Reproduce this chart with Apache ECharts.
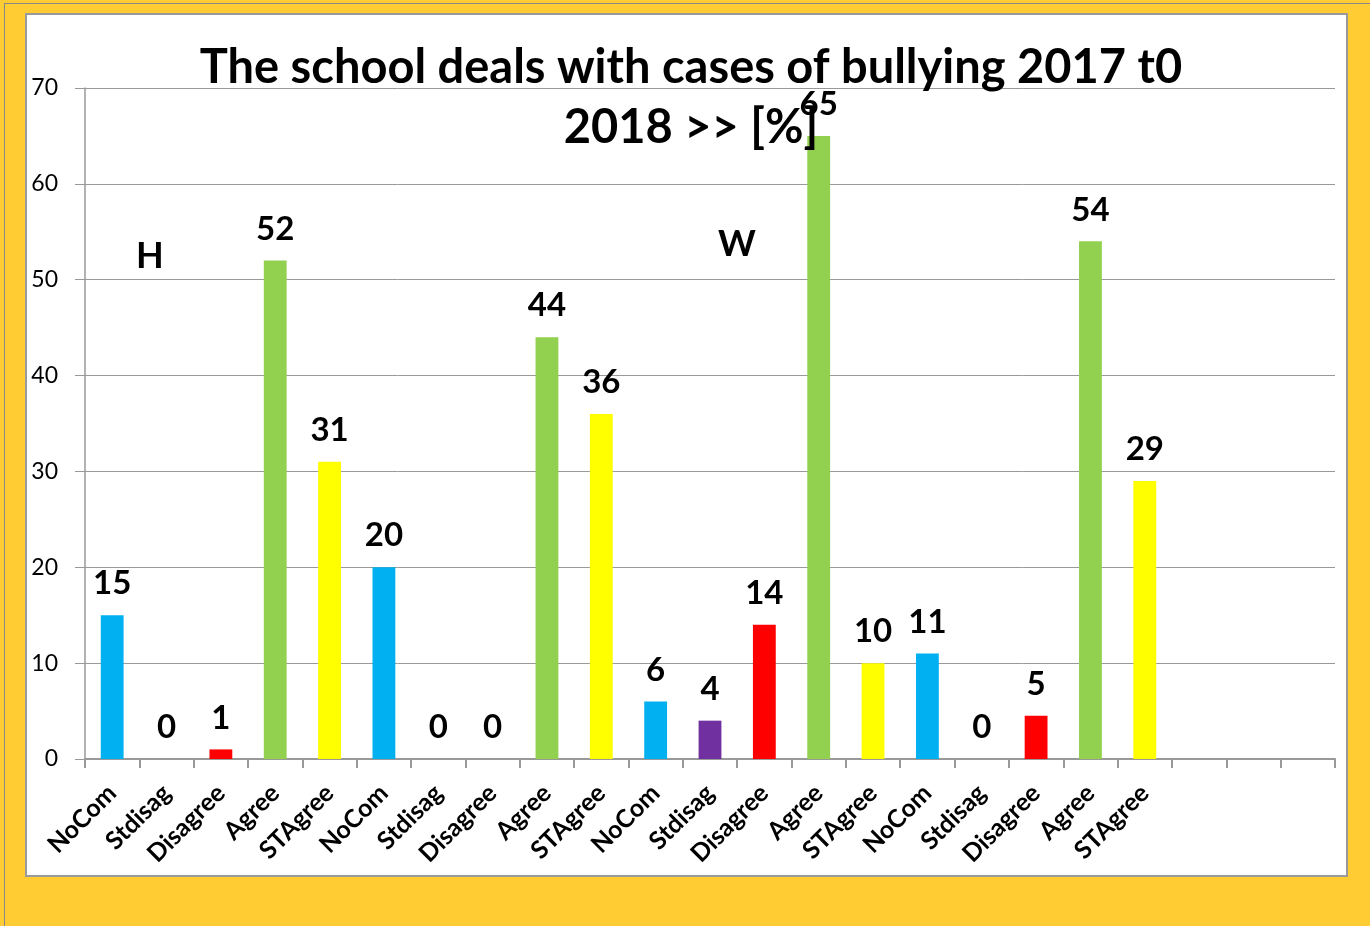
<!DOCTYPE html>
<html>
<head>
<meta charset="utf-8">
<script src="https://cdn.jsdelivr.net/npm/echarts@6/dist/echarts.min.js"></script>
<style>
  html, body { margin:0; padding:0; }
  body { width:1370px; height:926px; background:#FFCC33; position:relative; overflow:hidden; }
  #frame { position:absolute; left:4px; top:3px; width:1366px; height:923px; border-left:1px solid #888; border-top:1px solid #888; box-sizing:border-box; }
  #panel { position:absolute; left:25px; top:13px; width:1323px; height:864px; background:#fff; border:2px solid #9a9a9a; box-sizing:border-box; }
  #chart { position:absolute; left:0; top:0; width:1370px; height:926px; }
</style>
</head>
<body>
<div id="frame"></div>
<div id="panel"></div>
<div id="chart"></div>
<script>
	// 分类、数值
	var categories = ['NoCom','Stdisag','Disagree','Agree','STAgree',
		'NoCom','Stdisag','Disagree','Agree','STAgree',
		'NoCom','Stdisag','Disagree','Agree','STAgree',
		'NoCom','Stdisag','Disagree','Agree','STAgree',
		'','',''];
	var values = [15,0,1,52,31, 20,0,0,44,36, 6,4,14,65,10, 11,0,4.5,54,29, null,null,null];
	var yTicks = [0,10,20,30,40,50,60,70];
	var groupNames = ['H','W'];

	var colorMap = {
		'NoCom':'#00B0F0',
		'Stdisag':'#7030A0',
		'Disagree':'#FF0000',
		'Agree':'#92D050',
		'STAgree':'#FFFF00'
	};
	var font = 'Lato';

	var barData = [];
	for (var i = 0; i < values.length; i++) {
		barData.push({
			value: values[i],
			itemStyle: { color: colorMap[categories[i]] || '#ccc' }
		});
	}

	var myChart = echarts.init(document.getElementById('chart'));
	var option = {
		backgroundColor: 'transparent',
		animation: false,
		title: {
			text: 'The school deals with cases of bullying 2017 t0\n2018 >> [%]',
			left: 686,
			textAlign: 'center',
			top: 33,
			textStyle: {
				fontFamily: font,
				fontSize: 47,
				fontWeight: 'bold',
				color: '#000',
				lineHeight: 60
			}
		},
		graphic: [
			{ type:'text', left:136, top:238, style:{ text: groupNames[0], font:'bold 36px ' + font, fill:'#000' } },
			{ type:'text', left:718, top:226, style:{ text: groupNames[1], font:'bold 36px ' + font, fill:'#000' } }
		],
		grid: {
			left: 85,
			right: 35,
			top: 88,
			bottom: 167,
			containLabel: false
		},
		xAxis: {
			type: 'category',
			data: categories,
			boundaryGap: true,
			axisLine: { lineStyle: { color:'#999', width:2 } },
			axisTick: { show:true, length:9, lineStyle:{ color:'#999', width:2 } },
			axisLabel: {
				interval: 0,
				rotate: 45,
				margin: 30,
				fontFamily: font,
				fontSize: 25,
				fontWeight: 'bold',
				color: '#000'
			},
			splitLine: { show:false }
		},
		yAxis: {
			type: 'value',
			min: yTicks[0],
			max: yTicks[yTicks.length - 1],
			interval: 10,
			axisLine: { show:true, lineStyle:{ color:'#999', width:1.5 } },
			axisTick: { show:true, length:10, lineStyle:{ color:'#999' } },
			axisLabel: {
				margin: 27,
				fontFamily: font,
				fontSize: 23,
				color: '#000'
			},
			splitLine: { show:true, lineStyle:{ color:'#999', width:1 } }
		},
		series: [{
			type: 'bar',
			barWidth: '42%',
			data: barData,
			label: {
				show: true,
				position: 'top',
				distance: 15,
				fontFamily: font,
				fontSize: 33,
				fontWeight: 'bold',
				color: '#000',
				formatter: function (p) {
					return p.value == null ? '' : Math.round(p.value);
				}
			}
		}]
	};
	myChart.setOption(option);
</script>
</body>
</html>
